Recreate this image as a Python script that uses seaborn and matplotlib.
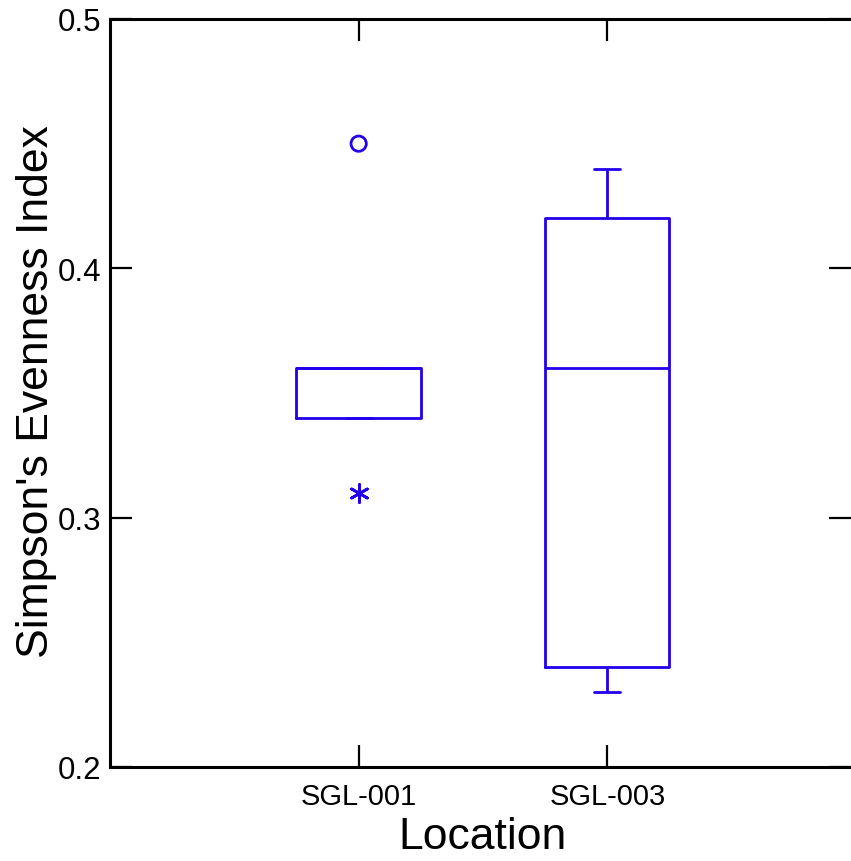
import matplotlib
matplotlib.use("Agg")
import matplotlib.pyplot as plt
import seaborn as sns
import pandas as pd

# ---- data ----
locations = ["SGL-001", "SGL-003"]
sgl001_values = [0.34, 0.34, 0.36, 0.36, 0.36]
sgl003_values = [0.23, 0.24, 0.36, 0.42, 0.44]
far_outside_loc = ["SGL-001"]
far_outside_val = [0.45]
outside_loc = ["SGL-001"]
outside_val = [0.31]
y_ticks = [0.2, 0.3, 0.4, 0.5]
y_tick_labels = ["0.2", "0.3", "0.4", "0.5"]

BLUE = "#2200EE"

sns.set_style("white")
plt.rcParams["font.family"] = ["Liberation Sans", "DejaVu Sans"]
plt.rcParams["text.color"] = "black"
plt.rcParams["axes.labelcolor"] = "black"
plt.rcParams["xtick.color"] = "black"
plt.rcParams["ytick.color"] = "black"

df = pd.DataFrame({
    "Location": [locations[0]] * len(sgl001_values) + [locations[1]] * len(sgl003_values),
    "value": sgl001_values + sgl003_values,
})

fig = plt.figure(figsize=(8.51, 8.62), dpi=100)
ax = fig.add_axes([110 / 851, 1 - 768 / 862, 1 - 110 / 851, (768 - 20) / 862])

lp = dict(color=BLUE, linewidth=2)
sns.boxplot(data=df, x="Location", y="value", order=locations, ax=ax,
            width=0.5, whis=(0, 100), showfliers=False, fill=False,
            linecolor=BLUE, linewidth=2,
            boxprops=dict(color=BLUE, linewidth=2),
            whiskerprops=lp, capprops=lp, medianprops=lp,
            capwidths=0.105)

fo = pd.DataFrame({"Location": far_outside_loc, "value": far_outside_val})
so = pd.DataFrame({"Location": outside_loc, "value": outside_val})
n0 = len(ax.collections)
sns.stripplot(data=fo, x="Location", y="value", order=locations, ax=ax,
              jitter=False, marker="o", size=11, color=BLUE, linewidth=2)
for c in ax.collections[n0:]:
    c.set_facecolor("none")
    c.set_edgecolor(BLUE)
    c.set_linewidth(2)
n1 = len(ax.collections)
sns.stripplot(data=so, x="Location", y="value", order=locations, ax=ax,
              jitter=False, marker=(6, 2, 0), size=13, color=BLUE, linewidth=2)
for c in ax.collections[n1:]:
    c.set_edgecolor(BLUE)
    c.set_linewidth(2)

ax.set_xlim(-1.0, 1.98)
ax.set_ylim(0.2, 0.5)
ax.set_yticks(y_ticks)
ax.set_yticklabels(y_tick_labels)
ax.set_xticks([0, 1])
ax.set_xticklabels(locations)

for s in ["left", "bottom", "top"]:
    ax.spines[s].set_visible(True)
    ax.spines[s].set_color("black")
    ax.spines[s].set_linewidth(2.2)
ax.spines["right"].set_visible(False)

ax.tick_params(axis="both", direction="in", length=16, width=1.6, color="black",
               labelcolor="black", top=True, right=True, left=True, bottom=True)
ax.tick_params(axis="y", labelsize=22.5, pad=6)
ax.tick_params(axis="x", labelsize=21, pad=11)

ax.set_xlabel("Location", fontsize=32)
ax.set_ylabel("Simpson's Evenness Index", fontsize=32)
ax.xaxis.set_label_coords(0.503, (768 - 817) / 748)
ax.yaxis.set_label_coords((57 - 110) / 741, (768 - 392) / 748)

fig.savefig("out.png", dpi=100)
